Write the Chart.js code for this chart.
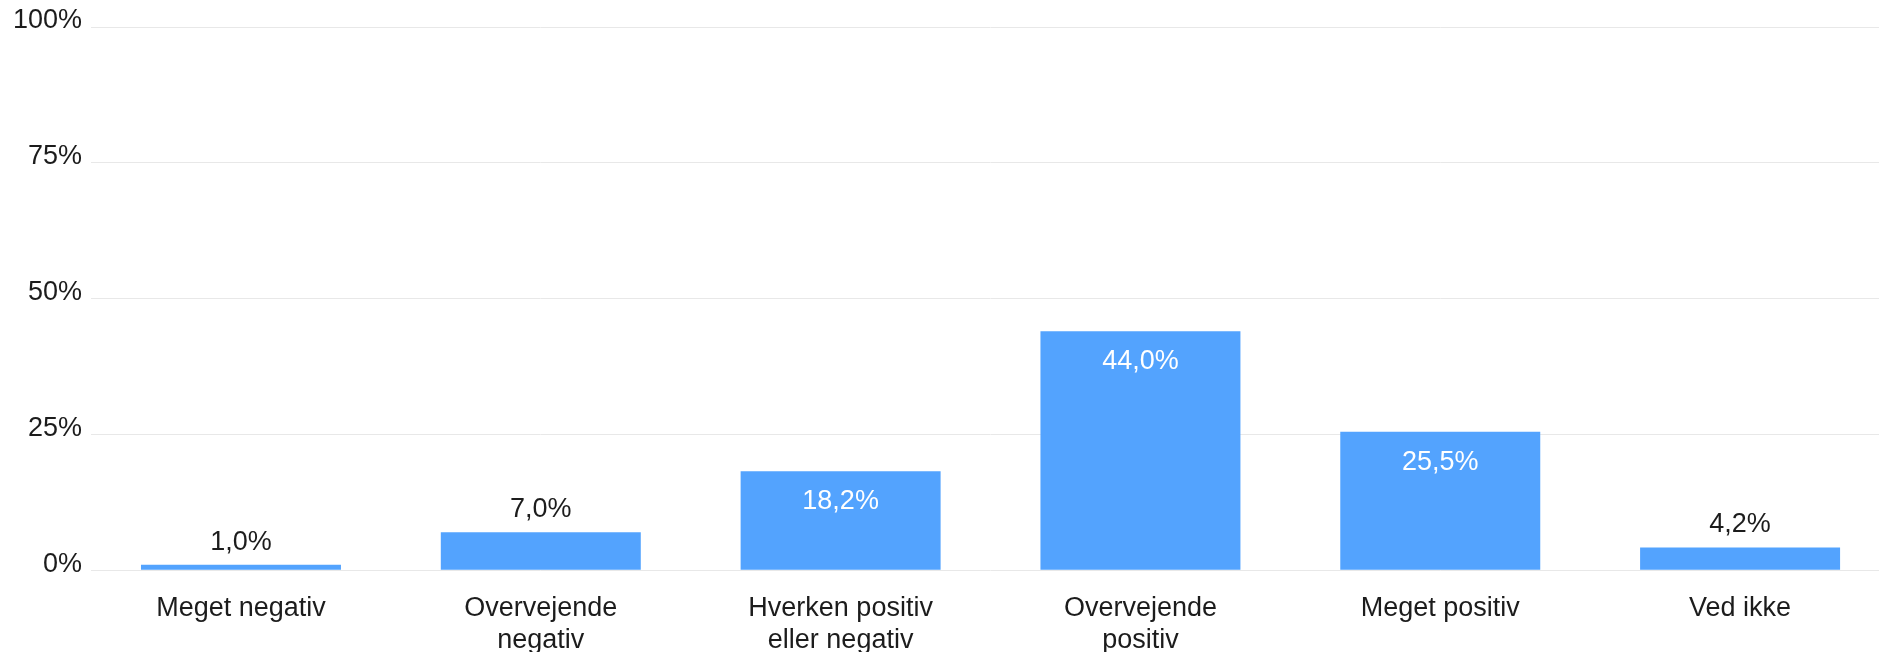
<!DOCTYPE html>
<html>
<head>
<meta charset="utf-8">
<script src="https://cdn.jsdelivr.net/npm/chart.js@4.4.0/dist/chart.umd.min.js"></script>
<style>
  html, body { margin: 0; padding: 0; background: #fff; overflow: hidden; }
  #wrap { width: 1890px; height: 679px; position: relative; }
</style>
</head>
<body>
<div id="wrap"><canvas id="chart"></canvas></div>
<script>
  // ---- DATA ----
  const categories = [
    'Meget negativ',
    ['Overvejende', 'negativ'],
    ['Hverken positiv', 'eller negativ'],
    ['Overvejende', 'positiv'],
    'Meget positiv',
    'Ved ikke'
  ];
  const shares = [1.0, 7.0, 18.2, 44.0, 25.5, 4.2];
  const yTicks = [0, 25, 50, 75, 100];

  const BAR_COLOR = '#53a3fe';
  const TEXT = '#1c1c1c';
  const FONT = '"Liberation Sans", Arial, sans-serif';

  const fmt = v => v.toFixed(1).replace('.', ',') + '%';

  // value labels: inside (white) for tall bars, above (dark) for short ones
  const valueLabels = {
    id: 'valueLabels',
    afterDatasetsDraw(chart) {
      const c = chart.ctx;
      const meta = chart.getDatasetMeta(0);
      c.save();
      c.font = '27px ' + FONT;
      c.textAlign = 'center';
      c.textBaseline = 'alphabetic';
      meta.data.forEach((bar, i) => {
        const v = shares[i];
        if (v > 12) {
          c.fillStyle = '#ffffff';
          c.fillText(fmt(v), bar.x, bar.y + 38);
        } else {
          c.fillStyle = TEXT;
          c.fillText(fmt(v), bar.x, bar.y - 15);
        }
      });
      c.restore();
    }
  };

  new Chart(document.getElementById('chart'), {
    type: 'bar',
    data: {
      labels: categories,
      datasets: [{
        data: shares,
        backgroundColor: BAR_COLOR,
        borderWidth: 0,
        categoryPercentage: 1,
        barPercentage: 0.667
      }]
    },
    options: {
      responsive: true,
      maintainAspectRatio: false,
      animation: false,
      layout: { padding: { top: 27, left: 4, right: 0, bottom: 0 } },
      plugins: {
        legend: { display: false },
        tooltip: { enabled: false }
      },
      scales: {
        x: {
          grid: { display: false, drawTicks: false },
          border: { display: false },
          ticks: {
            color: TEXT,
            font: { family: FONT, size: 27, lineHeight: 1.2 },
            padding: 22,
            maxRotation: 0,
            autoSkip: false
          }
        },
        y: {
          min: 0,
          max: 100,
          afterBuildTicks: axis => { axis.ticks = yTicks.map(v => ({ value: v })); },
          grid: { color: '#e8e8e8', lineWidth: 1, drawTicks: false },
          border: { display: false },
          ticks: {
            color: TEXT,
            font: { family: FONT, size: 27 },
            padding: 9,
            labelOffset: -6,
            callback: v => v + '%'
          }
        }
      }
    },
    plugins: [valueLabels]
  });
</script>
</body>
</html>
